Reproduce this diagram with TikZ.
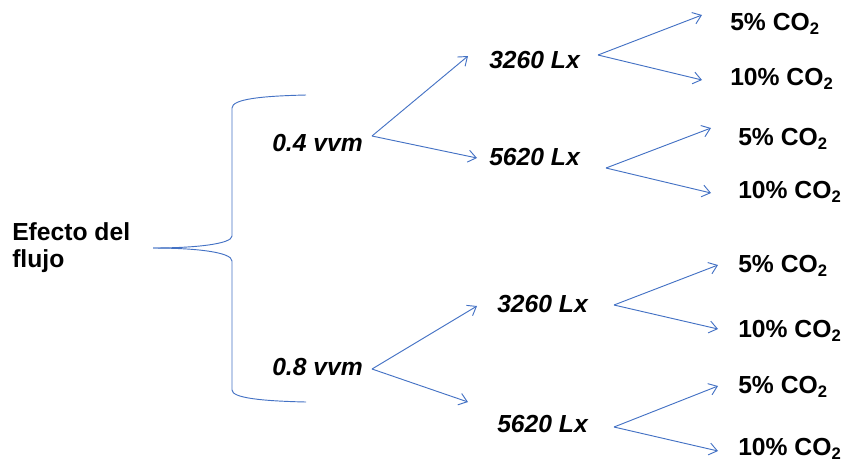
\documentclass[tikz,border=0pt]{standalone}
\usepackage{fontspec}
\setmainfont{Liberation Sans}
\usetikzlibrary{arrows.meta}
\definecolor{lineblue}{RGB}{68,114,196}
\newcommand{\cosub}{CO\raisebox{-0.2em}{\fontsize{12.5}{12.5}\selectfont 2}}
\tikzset{
  lx/.style={font=\bfseries\itshape\fontsize{18.5}{20}\selectfont, inner sep=0pt, anchor=base west},
  co/.style={font=\bfseries\fontsize{18.5}{20}\selectfont, inner sep=0pt, anchor=base west},
  arr/.style={draw=lineblue, line width=0.7pt, -{Straight Barb[length=6pt,width=9pt]}},
  brace/.style={draw=lineblue, line width=0.7pt}
}
\begin{document}
\begin{tikzpicture}[x=0.75pt,y=-0.75pt]
\useasboundingbox (0,0) rectangle (848,462);
% texts
\node[font=\bfseries\fontsize{18.5}{20.5}\selectfont, inner sep=0pt, anchor=north west, align=left] (eff) at (12,222) {Efecto del\\flujo};
\node[lx] (v04) at (272,151) {0.4 vvm};
\node[lx] (v08) at (272,375) {0.8 vvm};
\node[lx] (l1) at (489,68) {3260 Lx};
\node[lx] (l2) at (489,165) {5620 Lx};
\node[lx] (l3) at (497,312) {3260 Lx};
\node[lx] (l4) at (497,432) {5620 Lx};
\node[co] (c1) at (730,30) {5\% \cosub};
\node[co] (c2) at (730,85) {10\% \cosub};
\node[co] (c3) at (738,145) {5\% \cosub};
\node[co] (c4) at (738,198) {10\% \cosub};
\node[co] (c5) at (738,272) {5\% \cosub};
\node[co] (c6) at (738,337) {10\% \cosub};
\node[co] (c7) at (738,393) {5\% \cosub};
\node[co] (c8) at (738,455) {10\% \cosub};
% brace
\coordinate (tip) at (153,248);
\draw[brace] (306,95) .. controls (262,96) and (232,99) .. (232,108) -- (232,236)
  .. controls (232,244) and (195,248) .. (tip);
\draw[brace] (tip) .. controls (195,248) and (232,252) .. (232,261) -- (232,390)
  .. controls (232,398) and (262,401) .. (306,402);
% forks
\coordinate (f04) at (372,136);
\coordinate (f08) at (372,369);
\coordinate (g1) at (598,55);
\coordinate (g2) at (606,168);
\coordinate (g3) at (614,305);
\coordinate (g4) at (614,427);
\draw[arr] (f04) -- ([shift={(-21,-12)}]l1.base west);
\draw[arr] (f04) -- ([shift={(-12,-7)}]l2.base west);
\draw[arr] (f08) -- ([shift={(-20,-6)}]l3.base west);
\draw[arr] (f08) -- ([shift={(-29,-30)}]l4.base west);
\draw[arr] (g1) -- ([shift={(-28,-15)}]c1.base west);
\draw[arr] (g1) -- ([shift={(-28,-5)}]c2.base west);
\draw[arr] (g2) -- ([shift={(-27,-17)}]c3.base west);
\draw[arr] (g2) -- ([shift={(-27,-5)}]c4.base west);
\draw[arr] (g3) -- ([shift={(-20,-7)}]c5.base west);
\draw[arr] (g3) -- ([shift={(-20,-8)}]c6.base west);
\draw[arr] (g4) -- ([shift={(-20,-7)}]c7.base west);
\draw[arr] (g4) -- ([shift={(-20,-4)}]c8.base west);
\end{tikzpicture}
\end{document}
